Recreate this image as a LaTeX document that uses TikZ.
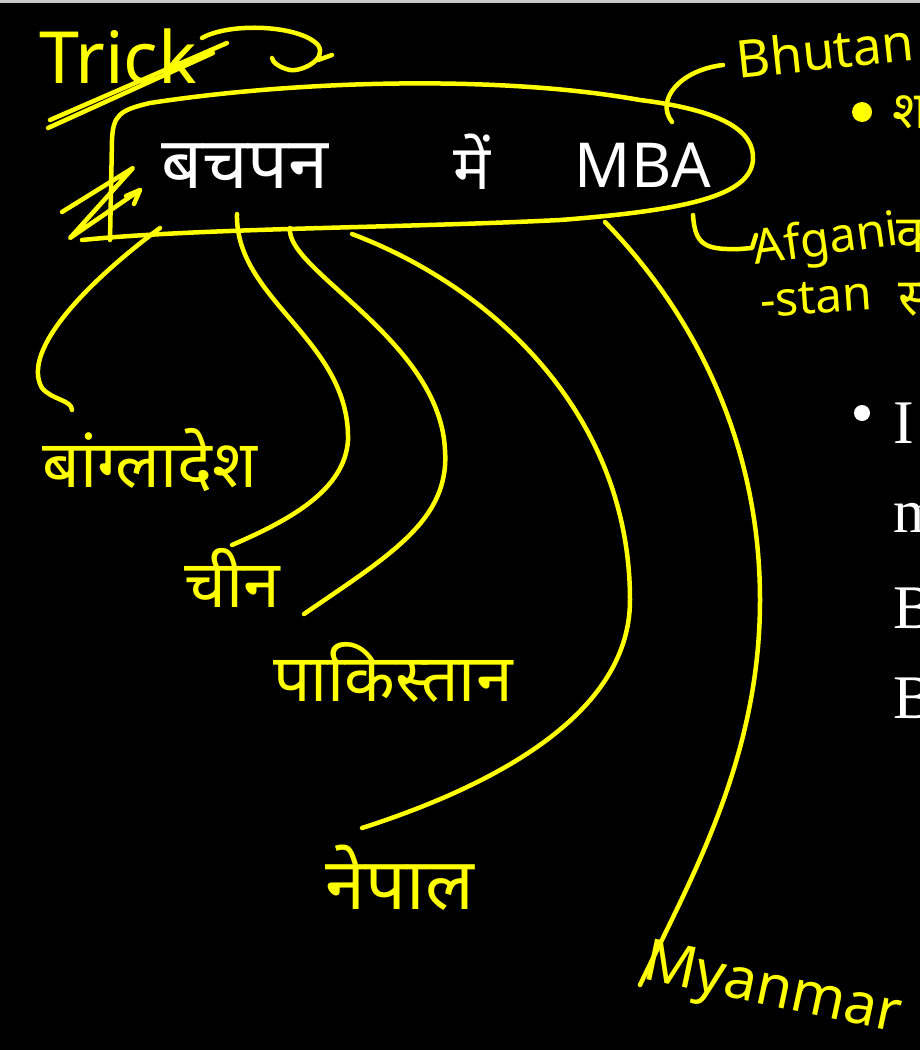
\documentclass[tikz,border=0pt]{standalone}
\usepackage{fontspec}
\usepackage{xcolor}
\setmainfont{Liberation Serif}
\newfontfamily\deva[Script=Devanagari]{Noto Sans}
\definecolor{customyellow}{HTML}{FFFF00}
\definecolor{customgray}{HTML}{C8C8C8}

\begin{document}
\begin{tikzpicture}[x = 1pt, y = -1pt,
        pen/.style = {draw = customyellow, line width = 4.5pt, line cap = round, line join = round},
        hand/.style = {text = customyellow, inner sep = 0pt, font = \deva\fontsize{52}{52}\selectfont},
        big/.style = {hand, font = \deva\fontsize{66}{66}\selectfont},
        chalk/.style = {text = white, inner sep = 0pt, font = \deva\fontsize{62}{62}\selectfont},
        slide/.style = {text = white, inner sep = 0pt, anchor = base west, font = \fontsize{62}{62}\selectfont}]

        \useasboundingbox (0, 0) rectangle (920, 1050);
        \fill [black] (0, 0) rectangle (920, 1050);
        \fill [customgray] (0, 0) rectangle (920, 3);
        \clip (0, 0) rectangle (920, 1050);

        % Slide text behind
        \fill [white] (862, 413) circle (8);
        \node [slide] (s1) at (893, 443) {I};
        \node [slide] (s2) at (893, 532) {m};
        \node [slide] (s3) at (893, 628) {B};
        \node [slide] (s4) at (893, 718) {B};
        \fill [customyellow] (862, 112) circle (10);
        \node [hand] (sha) at (910, 112) {श};

        % Trick
        \node [hand, font = \deva\fontsize{72}{72}\selectfont] (trick) at (118, 56) {Trick};
        \draw [pen] (48, 128) -- (213, 53);
        \draw [pen] (50, 120) -- (227, 43);
        \draw [pen] (202, 38) .. controls (230, 22) and (300, 25) .. (318, 45) .. controls (328, 60) and (300, 72) .. (290, 70) .. controls (280, 68) and (272, 62) .. (272, 58);
        \draw [pen] (318, 60) -- (332, 55);

        % Title
        \node [chalk, font = \deva\fontsize{72}{72}\selectfont] (bachpan) at (245, 166) {बचपन};
        \node [chalk] (mein) at (472, 162) {में};
        \node [chalk] (mba) at (643, 165) {MBA};
        \draw [pen] (110, 240) -- (112, 140) .. controls (113, 115) and (120, 110) .. (150, 103) .. controls (300, 80) and (500, 75) .. (640, 100) .. controls (720, 110) and (755, 130) .. (753, 160) .. controls (750, 195) and (690, 210) .. (560, 220) .. controls (400, 228) and (200, 228) .. (82, 240);
        \draw [pen] (62, 212) -- (133, 168) -- (70, 238) -- (140, 190);
        \draw [pen] (126, 196) -- (140, 190) -- (134, 204);

        % Countries
        \node [hand] (bhutan) at (825, 50) [rotate = 6] {Bhutan};
        \node [hand, font = \deva\fontsize{48}{48}\selectfont] (afgani) at (826, 242) [rotate = 8] {Afgani};
        \node [hand] (ka) at (916, 236) {क};
        \node [hand, font = \deva\fontsize{48}{48}\selectfont] (stan) at (816, 298) [rotate = 4] {-stan};
        \node [hand] (sa) at (916, 300) {स};
        \node [big] (bangla) at (150, 460) {बांग्लादेश};
        \node [big] (chin) at (232, 578) {चीन};
        \node [big] (pak) at (393, 672) {पाकिस्तान};
        \node [big, font = \deva\fontsize{72}{72}\selectfont] (nepal) at (400, 878) {नेपाल};
        \node [hand, font = \deva\fontsize{58}{58}\selectfont] (myanmar) at (772, 992) [rotate = -12] {Myanmar};

        \coordinate (b0) at (160, 228);
        \coordinate (b1) at (72, 410);
        \coordinate (c0) at (237, 214);
        \coordinate (c1) at (232, 545);
        \coordinate (p0) at (290, 228);
        \coordinate (p1) at (304, 614);
        \coordinate (n0) at (352, 234);
        \coordinate (n1) at (362, 828);
        \coordinate (m0) at (605, 222);
        \coordinate (m1) at (640, 985);
        \coordinate (h0) at (672, 122);
        \coordinate (h1) at (723, 65);
        \coordinate (a0) at (693, 215);
        \coordinate (a1) at (756, 235);

        % Leaders
        \draw [pen] (b0) .. controls (90, 280) and (20, 350) .. (42, 388) .. controls (52, 400) and (72, 400) .. (b1);
        \draw [pen] (c0) .. controls (235, 300) and (350, 340) .. (348, 440) .. controls (345, 490) and (290, 520) .. (c1);
        \draw [pen] (p0) .. controls (285, 270) and (440, 340) .. (445, 450) .. controls (450, 520) and (390, 555) .. (p1);
        \draw [pen] (n0) .. controls (500, 290) and (630, 420) .. (630, 600) .. controls (630, 720) and (480, 790) .. (n1);
        \draw [pen] (m0) .. controls (700, 320) and (760, 450) .. (760, 600) .. controls (760, 760) and (690, 880) .. (m1);
        \draw [pen] (h0) .. controls (655, 100) and (680, 70) .. (h1);
        \draw [pen] (a0) .. controls (695, 245) and (705, 250) .. (740, 249) -- (752, 248) -- (a1);

    \end{tikzpicture}
\end{document}
